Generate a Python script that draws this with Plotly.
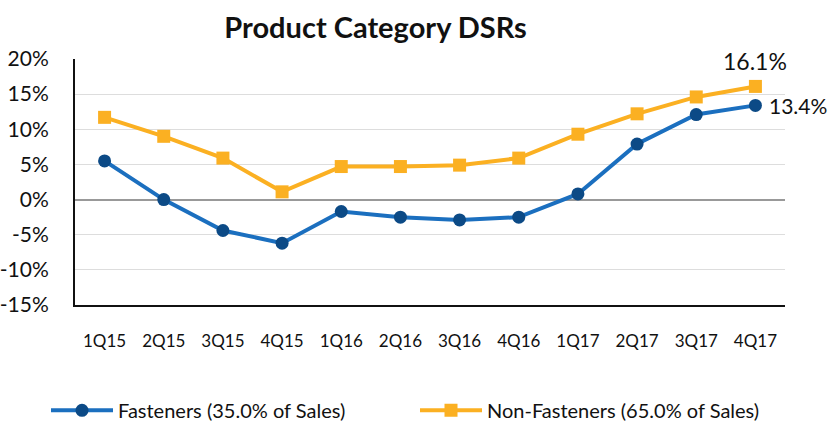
import plotly.graph_objects as go

quarters = ["1Q15", "2Q15", "3Q15", "4Q15", "1Q16", "2Q16", "3Q16", "4Q16", "1Q17", "2Q17", "3Q17", "4Q17"]
fasteners = [5.5, 0.0, -4.4, -6.2, -1.7, -2.5, -2.9, -2.5, 0.8, 7.9, 12.1, 13.4]
non_fasteners = [11.7, 9.0, 5.9, 1.1, 4.7, 4.7, 4.9, 5.9, 9.3, 12.2, 14.6, 16.1]
y_ticks = [20, 15, 10, 5, 0, -5, -10, -15]
y_tick_labels = ["20%", "15%", "10%", "5%", "0%", "-5%", "-10%", "-15%"]

FONT = "Lato"

fig = go.Figure()
fig.add_trace(go.Scatter(
    x=quarters, y=fasteners, mode="lines+markers",
    name="Fasteners (35.0% of Sales)", legend="legend",
    line=dict(color="#1b6fbf", width=4),
    marker=dict(symbol="circle", size=13, color="#0c4a86"),
))
fig.add_trace(go.Scatter(
    x=quarters, y=non_fasteners, mode="lines+markers",
    name="Non-Fasteners (65.0% of Sales)", legend="legend2",
    line=dict(color="#fbb022", width=4),
    marker=dict(symbol="square", size=13, color="#fbb022"),
))

fig.add_annotation(x=quarters[-1], y=non_fasteners[-1], text=f"{non_fasteners[-1]:.1f}%",
                   showarrow=False, yshift=25, font=dict(family=FONT, size=23, color="#111111"))
fig.add_annotation(x=quarters[-1], y=fasteners[-1], text=f"{fasteners[-1]:.1f}%",
                   showarrow=False, xanchor="left", xshift=12, font=dict(family=FONT, size=21, color="#111111"))

leg_common = dict(orientation="h", xref="container", yref="container", xanchor="left",
                  y=0.03, yanchor="middle", bgcolor="rgba(0,0,0,0)",
                  font=dict(family=FONT, size=20, color="#111111"), itemwidth=62)

fig.update_layout(
    width=831, height=423,
    margin=dict(l=75, r=46, t=59, b=118, autoexpand=False),
    paper_bgcolor="white", plot_bgcolor="white",
    title=dict(text="<b>Product Category DSRs</b>", x=0.452, xanchor="center", y=0.935, yanchor="middle",
               font=dict(family=FONT, size=29, color="#111111")),
    font=dict(family=FONT, color="#111111"),
    showlegend=True,
    legend=dict(x=46 / 831, **leg_common),
    legend2=dict(x=415 / 831, **leg_common),
    xaxis=dict(type="category", range=[-0.5, 11.5], showgrid=False, zeroline=False,
               showline=True, linecolor="#111111", linewidth=2, ticks="",
               tickfont=dict(family=FONT, size=17, color="#111111"), ticklabelstandoff=20),
    yaxis=dict(range=[-15, 20], tickvals=y_ticks, ticktext=y_tick_labels,
               showgrid=True, gridcolor="#dddddd", gridwidth=1,
               zeroline=True, zerolinecolor="#999999", zerolinewidth=1.5,
               showline=True, linecolor="#111111", linewidth=2, ticks="",
               tickfont=dict(family=FONT, size=21, color="#111111"), ticklabelstandoff=20),
)

fig.write_html("out.html")
